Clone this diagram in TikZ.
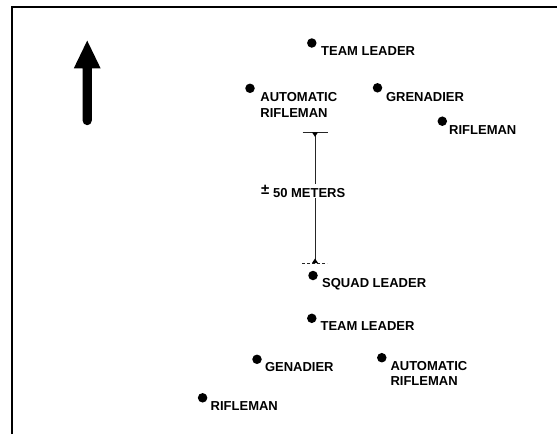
\documentclass[tikz,border=0pt]{standalone}
\usepackage{fontspec}
\setmainfont{Liberation Sans}
\usetikzlibrary{calc}
\tikzset{
  dot/.style={circle, fill=black, inner sep=0pt, minimum size=9.5pt},
  lbl/.style={anchor=base west, inner sep=0pt, font=\bfseries\fontsize{13}{15.5}\selectfont},
  barline/.style={line width=0.9pt, draw=black!85},
  frameline/.style={line width=2pt, draw=black},
}
\begin{document}
\begin{tikzpicture}[x=1pt, y=-1pt]
\useasboundingbox (0,0) rectangle (557,434);
% frame
\coordinate (fbl) at (12.2,434);
\coordinate (ftl) at (12.2,7);
\coordinate (ftr) at (557,7);
\draw[frameline] (fbl) -- (ftl) -- (ftr);
% direction arrow
\fill (82.6,68.3) -- (73.8,68.3) -- (87.2,40.6) -- (100.6,68.3) -- (91.8,68.3)
      -- (91.8,120.6) arc (0:180:4.6) -- cycle;
% forward team
\node[dot] (tla) at (311.8,43) {};
\node[lbl] (tlat) at (321,55) {TEAM LEADER};
\node[dot] (ara) at (250,88.3) {};
\node[lbl] (arat) at (260.2,101.5) {\vtop{\hbox{AUTOMATIC}\hbox{RIFLEMAN}}};
\node[dot] (gra) at (377.5,87.8) {};
\node[lbl] (grat) at (385.8,101.5) {GRENADIER};
\node[dot] (rfa) at (442.3,121.2) {};
\node[lbl] (rfat) at (449,134.7) {RIFLEMAN};
% distance bar
\coordinate (bt) at (315,132.3);
\coordinate (bb) at (315,263);
\draw[barline] (bt) -- (bb);
\draw[barline] ($(bt)+(-12.5,0)$) -- ($(bt)+(13,0)$);
\draw[barline, dash pattern=on 2.5pt off 2.5pt] ($(bb)+(-13,0)$) -- ($(bb)+(12,0)$);
\fill ($(bt)+(-3,0)$) -- ($(bt)+(3,0)$) -- ($(bt)+(0,4.5)$) -- cycle;
\fill ($(bb)+(-3,0)$) -- ($(bb)+(3,0)$) -- ($(bb)+(0,-4.5)$) -- cycle;
\node[lbl, fill=white, inner sep=1pt] (dist) at (260,197) {\raisebox{3pt}{\fontsize{15}{15}\selectfont ±} 50 METERS};
% squad leader
\node[dot] (sl) at (313,275.5) {};
\node[lbl] (slt) at (322,287.3) {SQUAD LEADER};
% rear team
\node[dot] (tlb) at (311.8,318.3) {};
\node[lbl] (tlbt) at (320.4,330) {TEAM LEADER};
\node[dot] (grb) at (257,359.3) {};
\node[lbl] (grbt) at (264.8,371.7) {GENADIER};
\node[dot] (arb) at (381.8,357.7) {};
\node[lbl] (arbt) at (390.3,370) {\vtop{\hbox{AUTOMATIC}\hbox{RIFLEMAN}}};
\node[dot] (rfb) at (202.6,397.8) {};
\node[lbl] (rfbt) at (210.5,410.4) {RIFLEMAN};
\end{tikzpicture}
\end{document}
